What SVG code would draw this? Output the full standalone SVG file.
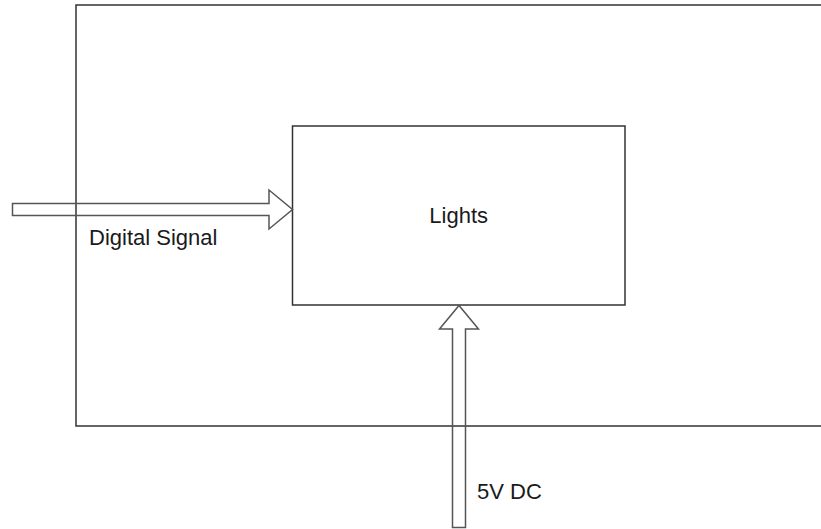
<svg xmlns="http://www.w3.org/2000/svg" width="821" height="529" viewBox="0 0 821 529">
<style>
.box{fill:none;stroke:#333;stroke-width:1.5}
.arrow{fill:none;stroke:#555;stroke-width:1.5;stroke-linejoin:miter}
.lbl{font-family:"Liberation Sans",Arial,sans-serif;font-size:22px;fill:#1a1a1a}
</style>
<rect width="821" height="529" fill="#fff"/>
<g id="system">
<rect class="box" x="76" y="5" width="760" height="421"/>
</g>
<g id="lights">
<rect class="box" x="292.5" y="126" width="332.5" height="179"/>
<text class="lbl" x="458.7" y="223" text-anchor="middle">Lights</text>
</g>
<g id="connectors">
<path class="arrow" d="M12.5,203.5 L269,203.5 L269,190 L292.5,209.5 L269,229 L269,215.5 L12.5,215.5 Z"/>
<text class="lbl" x="89" y="245">Digital Signal</text>
<path class="arrow" d="M452.5,527.5 L452.5,329 L439.5,329 L459,305.5 L478.5,329 L465.5,329 L465.5,527.5 Z"/>
<text class="lbl" x="477" y="499">5V DC</text>
</g>
</svg>
